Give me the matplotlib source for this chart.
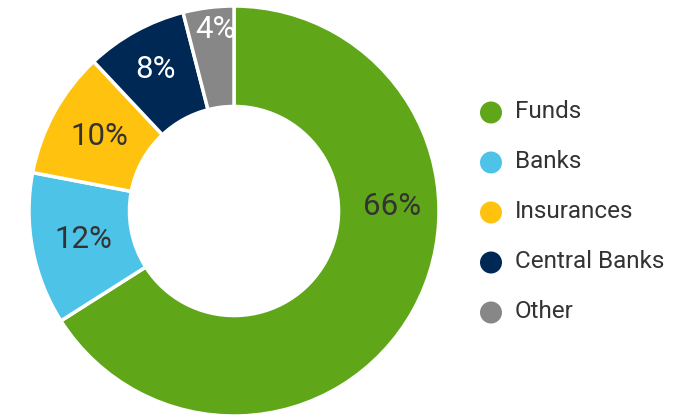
import matplotlib
matplotlib.use("Agg")
import matplotlib.pyplot as plt
import numpy as np

plt.rcParams['font.family'] = ['Roboto', 'DejaVu Sans']

categories = ["Funds", "Banks", "Insurances", "Central Banks", "Other"]
shares = [66, 12, 10, 8, 4]
colors = ["#5fa619", "#4dc3e8", "#ffc20e", "#002855", "#878787"]
label_colors = ["#333333", "#333333", "#333333", "#ffffff", "#ffffff"]

W, H = 692, 418
fig = plt.figure(figsize=(W / 100, H / 100), dpi=100)

# donut axes, placed in pixel units
cx, cy, R = 234, 211, 205
ax = fig.add_axes([(cx - R) / W, (H - cy - R) / H, 2 * R / W, 2 * R / H])
inner = 0.51
wedges, _ = ax.pie(shares, colors=colors, startangle=90, counterclock=False,
                   radius=1.0, wedgeprops=dict(width=1 - inner, edgecolor="white", linewidth=2.5))
ax.set_xlim(-1, 1)
ax.set_ylim(-1, 1)
ax.set_aspect("equal")
ax.axis("off")

# percentage labels: the big slice is labelled at 3 o'clock, the others mid-slice
for w, s, lc in zip(wedges, shares, label_colors):
    mid = (w.theta1 + w.theta2) / 2
    if s > 50:
        ang, rr = 1.8, 0.77
    elif s < 5:
        ang, rr = mid - 1.5, 0.89
    elif s < 9:
        ang, rr = mid, 0.79
    else:
        ang, rr = mid, 0.75
    a = np.deg2rad(ang)
    ax.text(rr * np.cos(a), rr * np.sin(a), f"{s}%", ha="center", va="center",
            fontsize=22.5, color=lc)

# legend drawn on an overlay axes in pixel coordinates
lg = fig.add_axes([0, 0, 1, 1])
lg.set_xlim(0, W)
lg.set_ylim(H, 0)
lg.axis("off")
row_y = 112.5 + 50 * np.arange(len(categories))
lg.scatter(np.full(len(categories), 491), row_y, s=(22 * 0.72) ** 2, c=colors, marker="o",
           linewidths=0)
for y, name in zip(row_y, categories):
    lg.text(515, y - 1, name, ha="left", va="center", fontsize=17.5, color="#333333")

fig.savefig("out.png", dpi=100)
